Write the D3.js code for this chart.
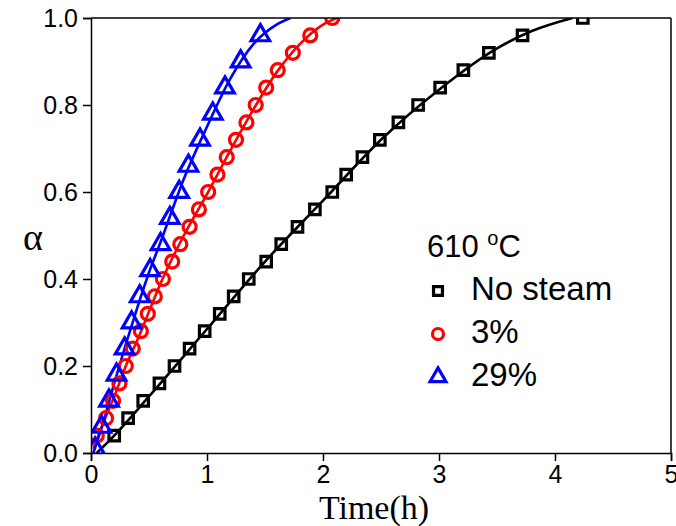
<!DOCTYPE html>
<html>
<head>
<meta charset="utf-8">
<script src="https://cdn.jsdelivr.net/npm/d3@7"></script>
<style>
  body { margin: 0; background: #fff; }
  text { font-family: "Liberation Sans", Arial, sans-serif; }
</style>
</head>
<body>
<svg id="chart" width="676" height="526"></svg>
<script>
// measured points (time in h, conversion alpha)
var noSteamTime  = [0.20,0.32,0.45,0.59,0.72,0.85,0.98,1.11,1.23,1.36,1.51,1.64,1.78,1.93,2.08,2.20,2.34,2.49,2.65,2.82,3.01,3.21,3.43,3.72,4.24];
var noSteamAlpha = [0.04,0.08,0.12,0.16,0.20,0.24,0.28,0.32,0.36,0.40,0.44,0.48,0.52,0.56,0.60,0.64,0.68,0.72,0.76,0.80,0.84,0.88,0.92,0.96,1.00];

var steam3Time  = [0.05,0.13,0.19,0.245,0.30,0.36,0.43,0.49,0.55,0.62,0.70,0.77,0.85,0.93,1.01,1.09,1.17,1.25,1.34,1.42,1.51,1.61,1.74,1.89,2.08];
var steam3Alpha = [0.04,0.08,0.12,0.16,0.20,0.24,0.28,0.32,0.36,0.40,0.44,0.48,0.52,0.56,0.60,0.64,0.68,0.72,0.76,0.80,0.84,0.88,0.92,0.96,1.00];

var steam29Time  = [0.035,0.09,0.155,0.22,0.29,0.35,0.42,0.51,0.60,0.68,0.76,0.84,0.94,1.05,1.155,1.29,1.46];
var steam29Alpha = [0.01,0.06,0.12,0.18,0.24,0.30,0.36,0.42,0.48,0.54,0.60,0.66,0.72,0.78,0.84,0.90,0.96];

// fitted curves
var noSteamFitTime  = [0.05,0.2,0.5,1.0,1.5,2.0,2.5,3.0,3.5,3.8,4.15];
var noSteamFitAlpha = [0.0,0.04,0.13,0.285,0.44,0.58,0.72,0.835,0.93,0.97,1.0];
var steam3FitTime  = [0.02,0.1,0.2,0.3,0.4,0.5,0.6,0.8,1.0,1.2,1.4,1.6,1.8,2.0,2.12];
var steam3FitAlpha = [0.01,0.065,0.13,0.2,0.26,0.325,0.39,0.5,0.595,0.695,0.79,0.875,0.94,0.985,1.0];
var steam29FitTime  = [0.02,0.1,0.2,0.3,0.4,0.5,0.6,0.8,1.0,1.2,1.4,1.6,1.72];
var steam29FitAlpha = [0.0,0.065,0.16,0.25,0.335,0.415,0.485,0.63,0.75,0.86,0.94,0.985,1.0];

var xTicks = [0,1,2,3,4,5];
var yTicks = [0.0,0.2,0.4,0.6,0.8,1.0];

var svg = d3.select("#chart");
var margin = {top: 18, right: 5, bottom: 73, left: 91};
var width = 676 - margin.left - margin.right;
var height = 526 - margin.top - margin.bottom;
var g = svg.append("g").attr("transform", "translate(" + margin.left + "," + margin.top + ")");

var x = d3.scaleLinear().domain([0, 5]).range([0, width]);
var y = d3.scaleLinear().domain([0, 1]).range([height, 0]);

svg.append("defs").append("clipPath").attr("id", "plot-clip")
  .append("rect").attr("width", width).attr("height", height);

function zip(t, a) { return t.map((d, i) => ({t: d, a: a[i]})); }

var series = [
  {name: "No steam", pts: zip(noSteamTime, noSteamAlpha), fit: zip(noSteamFitTime, noSteamFitAlpha), color: "#000000", shape: "square"},
  {name: "3%",       pts: zip(steam3Time, steam3Alpha),   fit: zip(steam3FitTime, steam3FitAlpha),   color: "#ff0000", shape: "circle"},
  {name: "29%",      pts: zip(steam29Time, steam29Alpha), fit: zip(steam29FitTime, steam29FitAlpha), color: "#0000ff", shape: "triangle"}
];

var line = d3.line().x((d) => x(d.t)).y((d) => y(d.a)).curve(d3.curveMonotoneX);

var plot = g.append("g").attr("clip-path", "url(#plot-clip)");

series.forEach(function(s) {
  plot.append("path")
    .datum(s.fit)
    .attr("d", line)
    .attr("fill", "none")
    .attr("stroke", s.color)
    .attr("stroke-width", 2.6);
});

function drawMarker(sel, shape, color, scale) {
  scale = scale || 1;
  if (shape === "circle") {
    sel.append("circle").attr("r", 6.5 * scale).attr("fill", "none")
      .attr("stroke", color).attr("stroke-width", 3.2);
  } else {
    var sym = shape === "square" ? d3.symbolSquare : d3.symbolTriangle;
    var size = (shape === "square" ? 110 : 150) * scale * scale;
    sel.append("path")
      .attr("d", d3.symbol().type(sym).size(size))
      .attr("fill", "none")
      .attr("stroke", color)
      .attr("stroke-width", 3.2)
      .attr("stroke-linejoin", "miter");
  }
}

series.forEach(function(s) {
  var m = plot.selectAll(".m-" + s.shape)
    .data(s.pts)
    .enter().append("g")
      .attr("class", "m-" + s.shape)
      .attr("transform", (d) => "translate(" + x(d.t) + "," + y(d.a) + ")");
  drawMarker(m, s.shape, s.color);
});

// axes
var xAxis = g.append("g").attr("transform", "translate(0," + height + ")");
xAxis.call(d3.axisBottom(x).tickValues(d3.range(0, 5.01, 0.5)).tickSize(4).tickFormat(""));
xAxis.call(d3.axisBottom(x).tickValues(xTicks).tickSize(8).tickPadding(4).tickFormat(d3.format("d")));

var yAxis = g.append("g");
yAxis.call(d3.axisLeft(y).tickValues(d3.range(0, 1.01, 0.1)).tickSize(4).tickFormat(""));
yAxis.call(d3.axisLeft(y).tickValues(yTicks).tickSize(8).tickPadding(5).tickFormat(d3.format(".1f")));

g.selectAll(".tick line").attr("stroke", "#000").attr("stroke-width", 1.5);
g.selectAll(".domain").attr("stroke", "#000").attr("stroke-width", 1.5);
g.selectAll(".tick text")
  .attr("fill", "#000")
  .style("font-family", "'Liberation Sans', Arial, sans-serif")
  .style("font-size", "25px");

// top and right frame lines
g.append("line").attr("x1", 0).attr("x2", width).attr("y1", 0).attr("y2", 0)
  .attr("stroke", "#000").attr("stroke-width", 1.5);
g.append("line").attr("x1", width).attr("x2", width).attr("y1", 0).attr("y2", height)
  .attr("stroke", "#000").attr("stroke-width", 1.5);

// axis titles
svg.append("text")
  .attr("x", 374).attr("y", 519)
  .attr("text-anchor", "middle")
  .style("font-family", "'Liberation Serif', 'Times New Roman', serif")
  .style("font-size", "34px")
  .text("Time(h)");

svg.append("text")
  .attr("x", 33).attr("y", 250)
  .attr("text-anchor", "middle")
  .style("font-family", "'Liberation Serif', 'Times New Roman', serif")
  .style("font-size", "38px")
  .text("α");

// legend
var legend = svg.append("g");
var title = legend.append("text")
  .attr("x", 427).attr("y", 257)
  .style("font-size", "31px");
title.append("tspan").text("610 ");
title.append("tspan").attr("dy", -12).style("font-size", "20px").text("o");
title.append("tspan").attr("dy", 12).text("C");

series.forEach(function(s, i) {
  var yy = 300 + i * 43;
  var item = legend.append("g").attr("transform", "translate(438," + (yy - 9) + ")");
  drawMarker(item, s.shape, s.color, 0.85);
  legend.append("text")
    .attr("x", 471).attr("y", yy)
    .style("font-size", "33px")
    .text(s.name);
});
</script>
</body>
</html>
